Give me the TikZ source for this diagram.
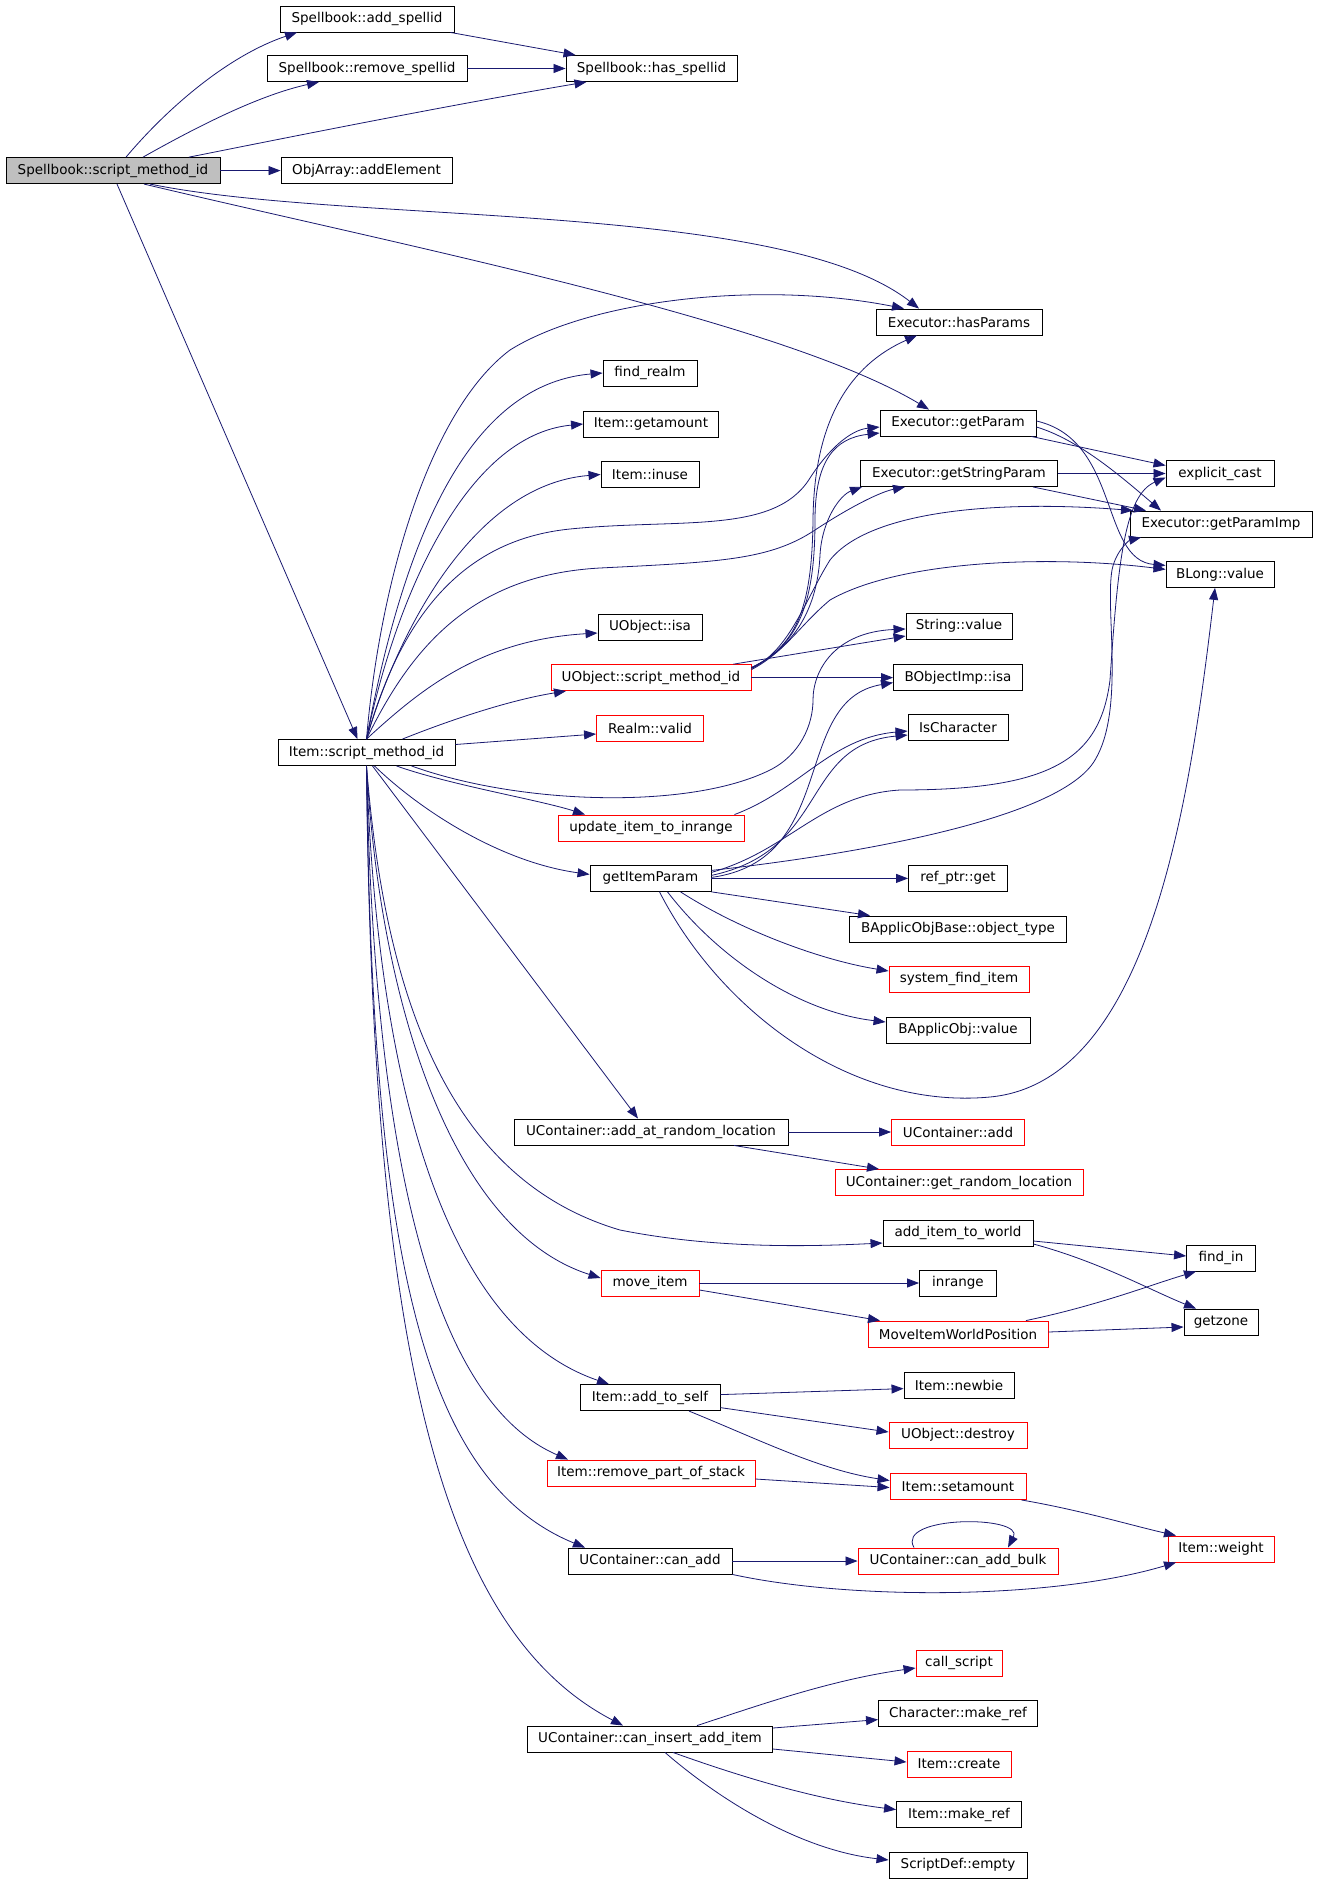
\documentclass[tikz,border=0pt]{standalone}
\usepackage{fontspec}
\newfontfamily\nodefont{DejaVu Sans}
\usetikzlibrary{arrows.meta}
\definecolor{edgecol}{HTML}{191970}
\definecolor{redcol}{HTML}{FF0000}
\definecolor{graycol}{HTML}{BFBFBF}
\begin{document}
\begin{tikzpicture}[x=1pt,y=-1pt,
  nbox/.style={draw=black, line width=0.9pt, minimum height=26pt, inner sep=0pt, font=\nodefont\fontsize{13.5}{16}\selectfont},
  rbox/.style={nbox, draw=redcol},
  cg/.style={draw=edgecol, line width=0.8pt, -{Triangle[length=12pt,width=9pt]}}]
\fill[white] (0,0) rectangle (1317,1885);
\useasboundingbox (0,0) rectangle (1317,1885);
% nodes
\node[nbox, fill=graycol, minimum width=214pt] (sb) at (113,170.6) {Spellbook::script\_method\_id};
\node[nbox, minimum width=174pt] (add) at (367,19) {Spellbook::add\_spellid};
\node[nbox, minimum width=200pt] (rem) at (367,68.5) {Spellbook::remove\_spellid};
\node[nbox, minimum width=171pt] (has) at (651.5,68.5) {Spellbook::has\_spellid};
\node[nbox, minimum width=171pt] (oae) at (366.5,170.6) {ObjArray::addElement};
\node[nbox, minimum width=166pt] (hp) at (959,322) {Executor::hasParams};
\node[nbox, minimum width=94pt] (fr) at (650,373) {find\_realm};
\node[nbox, minimum width=135pt] (iga) at (651,424) {Item::getamount};
\node[nbox, minimum width=98pt] (iiu) at (650,474.5) {Item::inuse};
\node[nbox, minimum width=156pt] (gp) at (958,423) {Executor::getParam};
\node[nbox, minimum width=197pt] (gsp) at (959,473.5) {Executor::getStringParam};
\node[nbox, minimum width=108pt] (ec) at (1220,473.5) {explicit\_cast};
\node[nbox, minimum width=182pt] (gpi) at (1221,524) {Executor::getParamImp};
\node[nbox, minimum width=108pt] (bl) at (1220,574.4) {BLong::value};
\node[nbox, minimum width=104pt] (uisa) at (650,627) {UObject::isa};
\node[nbox, minimum width=106pt] (sv) at (959,626) {String::value};
\node[rbox, minimum width=200pt] (usm) at (651,677.6) {UObject::script\_method\_id};
\node[nbox, minimum width=129pt] (boi) at (958,677.6) {BObjectImp::isa};
\node[rbox, minimum width=107pt] (rv) at (650,728) {Realm::valid};
\node[nbox, minimum width=100pt] (isc) at (958,727) {IsCharacter};
\node[nbox, minimum width=177pt] (ism) at (366.5,752.5) {Item::script\_method\_id};
\node[rbox, minimum width=186pt] (upd) at (651,828) {update\_item\_to\_inrange};
\node[nbox, minimum width=121pt] (gip) at (650.5,878.4) {getItemParam};
\node[nbox, minimum width=99pt] (ref) at (958,878.4) {ref\_ptr::get};
\node[nbox, minimum width=217pt] (bao) at (958,929) {BApplicObjBase::object\_type};
\node[rbox, minimum width=140pt] (sfi) at (959,979) {system\_find\_item};
\node[nbox, minimum width=144pt] (bav) at (958,1030) {BApplicObj::value};
\node[nbox, minimum width=274pt] (aarl) at (651,1132) {UContainer::add\_at\_random\_location};
\node[rbox, minimum width=133pt] (uca) at (958,1132) {UContainer::add};
\node[rbox, minimum width=248pt] (grl) at (959,1182.5) {UContainer::get\_random\_location};
\node[nbox, minimum width=150pt] (aitw) at (958,1233) {add\_item\_to\_world};
\node[nbox, minimum width=69pt] (fi) at (1221,1258) {find\_in};
\node[rbox, minimum width=98pt] (mi) at (650,1283) {move\_item};
\node[nbox, minimum width=77pt] (inr) at (958,1283) {inrange};
\node[rbox, minimum width=180pt] (miwp) at (958,1334) {MoveItemWorldPosition};
\node[nbox, minimum width=74pt] (gz) at (1221,1322) {getzone};
\node[nbox, minimum width=140pt] (ats) at (650,1397.6) {Item::add\_to\_self};
\node[nbox, minimum width=110pt] (nb) at (959,1385.6) {Item::newbie};
\node[rbox, minimum width=138pt] (ud) at (958,1435) {UObject::destroy};
\node[rbox, minimum width=208pt] (rps) at (651,1473) {Item::remove\_part\_of\_stack};
\node[rbox, minimum width=136pt] (sa) at (958,1486.5) {Item::setamount};
\node[rbox, minimum width=106pt] (wt) at (1221,1549) {Item::weight};
\node[nbox, minimum width=164pt] (ca) at (650,1561) {UContainer::can\_add};
\node[rbox, minimum width=200pt] (cab) at (958,1561) {UContainer::can\_add\_bulk};
\node[rbox, minimum width=86pt] (cs) at (959,1663) {call\_script};
\node[nbox, minimum width=159pt] (cmr) at (958,1713.6) {Character::make\_ref};
\node[nbox, minimum width=245pt] (ciai) at (650,1739) {UContainer::can\_insert\_add\_item};
\node[rbox, minimum width=104pt] (ic) at (959,1764) {Item::create};
\node[nbox, minimum width=125pt] (imr) at (959,1814.6) {Item::make\_ref};
\node[nbox, minimum width=138pt] (sde) at (958,1865) {ScriptDef::empty};
% Spellbook edges
\draw[cg] ([xshift=13pt]sb.north) .. controls (170,105) and (230,55) .. ([xshift=-70pt]add.south);
\draw[cg] ([xshift=30pt]sb.north) .. controls (200,125) and (260,95) .. ([xshift=-48pt]rem.south);
\draw[cg] ([xshift=76pt]sb.north) .. controls (300,135) and (450,105) .. ([xshift=-65pt]has.south);
\draw[cg] (sb) -- (oae);
\draw[cg] ([xshift=37pt]sb.south) .. controls (350,225) and (780,200) .. ([xshift=-40pt]hp.north);
\draw[cg] ([xshift=31pt]sb.south) .. controls (400,245) and (780,320) .. ([xshift=-29pt]gp.north);
\draw[cg] ([xshift=4pt]sb.south) -- ([xshift=-9pt]ism.north);
\draw[cg] ([xshift=-4pt]add.south east) -- ([xshift=10pt]has.north west);
\draw[cg] (rem) -- (has);
% Item::script_method_id upward
\draw[cg] (ism.north) .. controls (380,580) and (430,410) .. (510,350) .. controls (590,300) and (760,280) .. ([xshift=-55pt]hp.north);
\draw[cg] (ism.north) .. controls (400,560) and (460,385) .. (fr.west);
\draw[cg] (ism.north) .. controls (395,600) and (465,435) .. (iga.west);
\draw[cg] (ism.north) .. controls (395,640) and (470,485) .. (iiu.west);
\draw[cg] (ism.north) .. controls (400,620) and (460,540) .. (570,529) .. controls (680,518) and (775,535) .. (810,478) .. controls (828,450) and (850,430) .. ([yshift=-4pt]gp.west);
\draw[cg] (ism.north) .. controls (410,650) and (470,575) .. (600,568) .. controls (720,562) and (770,560) .. (815,530) .. controls (850,507) and (880,492) .. ([xshift=-54pt]gsp.south);
\draw[cg] (ism.north) .. controls (420,690) and (480,640) .. ([yshift=-6pt]uisa.west);
\draw[cg] ([xshift=36pt]ism.north) .. controls (450,720) and (510,700) .. ([xshift=-85pt]usm.south);
\draw[cg] ([yshift=8pt]ism.east) -- ([yshift=-6pt]rv.west);
\draw[cg] ([xshift=45pt]ism.south) .. controls (520,805) and (690,810) .. (770,770) .. controls (800,755) and (813,725) .. (813,700) .. controls (813,670) and (835,632) .. ([yshift=-3pt]sv.west);
% Item::script_method_id downward
\draw[cg] ([xshift=30pt]ism.south) .. controls (450,785) and (540,800) .. ([xshift=-66pt]upd.north);
\draw[cg] ([xshift=8pt]ism.south) .. controls (420,810) and (500,862) .. ([yshift=4pt]gip.west);
\draw[cg] ([xshift=6pt]ism.south) -- ([xshift=-13pt]aarl.north);
\draw[cg] (ism.south) .. controls (385,1000) and (450,1180) .. (620,1230) .. controls (720,1250) and (820,1246) .. ([yshift=-10pt]aitw.west);
\draw[cg] (ism.south) .. controls (380,1000) and (450,1230) .. ([yshift=5pt]mi.west);
\draw[cg] (ism.south) .. controls (378,1100) and (450,1330) .. ([xshift=-41pt]ats.north);
\draw[cg] (ism.south) .. controls (374,1150) and (430,1400) .. ([xshift=-83pt]rps.north);
\draw[cg] (ism.south) .. controls (372,1250) and (420,1480) .. ([xshift=-65pt]ca.north);
\draw[cg] (ism.south) .. controls (372,1350) and (440,1630) .. ([xshift=-27pt]ciai.north);
% UObject::script_method_id
\draw[cg] ([yshift=10pt]usm.east) .. controls (800,645) and (812,600) .. (813,520) .. controls (814,420) and (850,365) .. ([xshift=-42pt]hp.south);
\draw[cg] ([yshift=10pt]usm.east) .. controls (800,645) and (815,600) .. (815,520) .. controls (815,460) and (835,438) .. ([yshift=-10pt]gp.west);
\draw[cg] ([yshift=10pt]usm.east) .. controls (800,645) and (818,600) .. (820,555) .. controls (822,520) and (840,495) .. ([xshift=-97pt]gsp.south);
\draw[cg] ([yshift=9pt]usm.east) .. controls (790,650) and (805,600) .. (830,560) .. controls (870,510) and (1000,500) .. ([xshift=-88pt]gpi.north);
\draw[cg] ([yshift=8pt]usm.east) .. controls (785,652) and (800,625) .. (830,600) .. controls (900,560) and (1050,555) .. ([yshift=5pt]bl.west);
\draw[cg] ([xshift=-18pt]usm.north east) -- ([yshift=-10pt]sv.west);
\draw[cg] (usm) -- (boi);
% Executor
\draw[cg] ([xshift=-5pt]gp.south east) -- ([yshift=8pt]ec.west);
\draw[cg] ([yshift=-4pt]gp.east) .. controls (1080,440) and (1125,480) .. ([xshift=-60pt]gpi.north);
\draw[cg] ([yshift=2pt]gp.east) .. controls (1120,440) and (1100,560) .. ([yshift=9pt]bl.west);
\draw[cg] (gsp) -- (ec);
\draw[cg] ([xshift=-25pt]gsp.south east) -- ([xshift=-75pt]gpi.north);
% getItemParam
\draw[cg] ([yshift=3pt]gip.east) .. controls (830,850) and (800,745) .. ([yshift=-8pt]isc.west);
\draw[cg] ([xshift=-10pt]upd.north east) .. controls (800,790) and (830,738) .. ([yshift=-4pt]isc.west);
\draw[cg] ([yshift=1pt]gip.east) .. controls (840,860) and (790,700) .. ([yshift=-5pt]boi.west);
\draw[cg] ([yshift=6pt]gip.east) .. controls (790,850) and (820,795) .. (900,790) .. controls (1050,790) and (1100,760) .. (1110,680) .. controls (1118,560) and (1125,495) .. ([yshift=-4pt]ec.west);
\draw[cg] ([yshift=8pt]gip.east) .. controls (850,855) and (1060,820) .. (1095,760) .. controls (1125,710) and (1105,610) .. (1112,570) .. controls (1116,550) and (1130,540) .. ([xshift=-80pt]gpi.south);
\draw[cg] ([xshift=9pt]gip.south) .. controls (720,1010) and (850,1110) .. (990,1097) .. controls (1150,1082) and (1190,800) .. ([xshift=-5pt]bl.south);
\draw[cg] (gip) -- (ref);
\draw[cg] (gip.south east) -- ([xshift=-88pt]bao.north);
\draw[cg] ([xshift=30pt]gip.south) .. controls (740,930) and (820,960) .. ([yshift=8pt]sfi.west);
\draw[cg] ([xshift=17pt]gip.south) .. controls (720,960) and (800,1012) .. ([yshift=8pt]bav.west);
% lower part
\draw[cg] (aarl) -- (uca);
\draw[cg] ([xshift=83pt]aarl.south) -- ([xshift=-80pt]grl.north);
\draw[cg] ([yshift=-8pt]aitw.east) -- ([yshift=2pt]fi.west);
\draw[cg] ([yshift=-11pt]aitw.east) .. controls (1100,1262) and (1150,1290) .. ([xshift=-25pt]gz.north);
\draw[cg] (mi) -- (inr);
\draw[cg] ([yshift=-7pt]mi.east) -- ([xshift=-78pt]miwp.north);
\draw[cg] ([xshift=68pt]miwp.north) .. controls (1100,1305) and (1150,1285) .. ([xshift=-25pt]fi.south);
\draw[cg] ([yshift=2pt]miwp.east) -- ([yshift=-5pt]gz.west);
\draw[cg] ([yshift=3pt]ats.east) -- ([yshift=-3pt]nb.west);
\draw[cg] ([yshift=-10pt]ats.east) -- ([yshift=3pt]ud.west);
\draw[cg] ([xshift=39pt]ats.south) .. controls (760,1440) and (820,1470) .. ([yshift=6pt]sa.west);
\draw[cg] ([yshift=-6pt]rps.east) -- ([yshift=-1pt]sa.west);
\draw[cg] ([xshift=-5pt]sa.south east) .. controls (1080,1510) and (1130,1525) .. ([xshift=-45pt]wt.north);
\draw[cg] (ca) -- (cab);
\draw[cg] (ca.south east) .. controls (850,1600) and (1050,1600) .. ([xshift=-45pt]wt.south);
\draw[cg] ([xshift=-44pt]cab.north) .. controls (895,1515) and (1025,1515) .. ([xshift=50pt]cab.north);
\draw[cg] ([xshift=47pt]ciai.north) .. controls (760,1705) and (830,1680) .. ([yshift=-5pt]cs.west);
\draw[cg] ([yshift=11pt]ciai.east) -- ([yshift=-6pt]cmr.west);
\draw[cg] ([yshift=-10pt]ciai.east) -- ([yshift=2pt]ic.west);
\draw[cg] ([xshift=23pt]ciai.south) .. controls (750,1780) and (820,1800) .. ([yshift=5pt]imr.west);
\draw[cg] ([xshift=15pt]ciai.south) .. controls (720,1800) and (800,1850) .. ([yshift=5pt]sde.west);
\end{tikzpicture}
\end{document}
